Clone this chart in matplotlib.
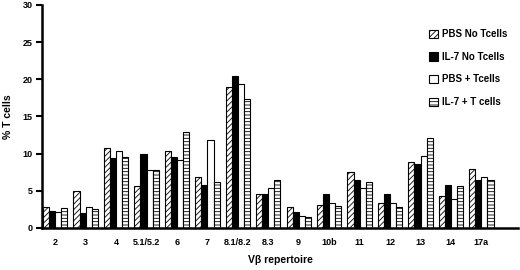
import numpy as np
import matplotlib
matplotlib.use("Agg")
import matplotlib.pyplot as plt

# V-beta families and % T cells for each condition
families = ["2", "3", "4", "5.1/5.2", "6", "7", "8.1/8.2", "8.3", "9",
            "10b", "11", "12", "13", "14", "17a"]
pbs_no_t = [2.8, 5.0, 10.8, 5.7, 10.3, 6.9, 19.0, 4.5, 2.8, 3.1, 7.5, 3.4, 8.9, 4.3, 7.9]
il7_no_t = [2.3, 2.0, 9.4, 10.0, 9.5, 5.8, 20.4, 4.6, 2.2, 4.6, 6.5, 4.5, 8.6, 5.8, 6.5]
pbs_t = [2.2, 2.8, 10.3, 7.8, 9.1, 11.8, 19.4, 5.3, 1.6, 3.4, 5.3, 3.4, 9.7, 3.9, 6.8]
il7_t = [2.7, 2.5, 9.5, 7.8, 12.9, 6.2, 17.3, 6.5, 1.4, 2.9, 6.2, 2.8, 12.1, 5.6, 6.5]

series = [pbs_no_t, il7_no_t, pbs_t, il7_t]
labels = ["PBS No Tcells", "IL-7 No Tcells", "PBS + Tcells", "IL-7 + T cells"]
fills = ["white", "black", "white", "white"]
hatches = ["//////", None, None, "-----"]

plt.rcParams["font.family"] = ["Liberation Sans", "DejaVu Sans"]
plt.rcParams["font.weight"] = "bold"
plt.rcParams["hatch.linewidth"] = 0.6

fig = plt.figure(figsize=(5.2, 2.7), dpi=100)
ax = fig.add_axes([0.081, 0.156, 0.915, 0.826])

x = np.arange(len(families))
barWidth = 0.2
offsets = [-1.5, -0.5, 0.5, 1.5]
for i in range(4):
    ax.bar(x + offsets[i] * barWidth, series[i], width=barWidth, color=fills[i],
           edgecolor="black", linewidth=0.8, hatch=hatches[i], label=labels[i])

ax.set_xlim(-0.43, 15.2)
ax.set_ylim(0, 30)
ax.set_yticks([0, 5, 10, 15, 20, 25, 30])
ax.set_xticks(x)
ax.set_xticklabels(families)
ax.tick_params(axis="x", length=0, labelsize=6.5, pad=7)
ax.tick_params(axis="y", length=4, width=1.5, labelsize=6.5, pad=3)
for lab in ax.get_xticklabels() + ax.get_yticklabels():
    lab.set_fontweight("bold")

ax.spines["top"].set_visible(False)
ax.spines["right"].set_visible(False)
ax.spines["left"].set_linewidth(1.8)
ax.spines["bottom"].set_linewidth(1.8)

ax.set_xlabel("V\u03b2 repertoire", fontsize=7.5, fontweight="bold", labelpad=6)
ax.set_ylabel("% T cells", fontsize=7.5, fontweight="bold", labelpad=7)

leg = ax.legend(loc="upper left", bbox_to_anchor=(0.795, 0.93), frameon=False,
                fontsize=7, handlelength=0.9, handleheight=0.9,
                handletextpad=0.4, labelspacing=1.3)
for t in leg.get_texts():
    t.set_fontweight("bold")

fig.savefig("out.png", dpi=100)
